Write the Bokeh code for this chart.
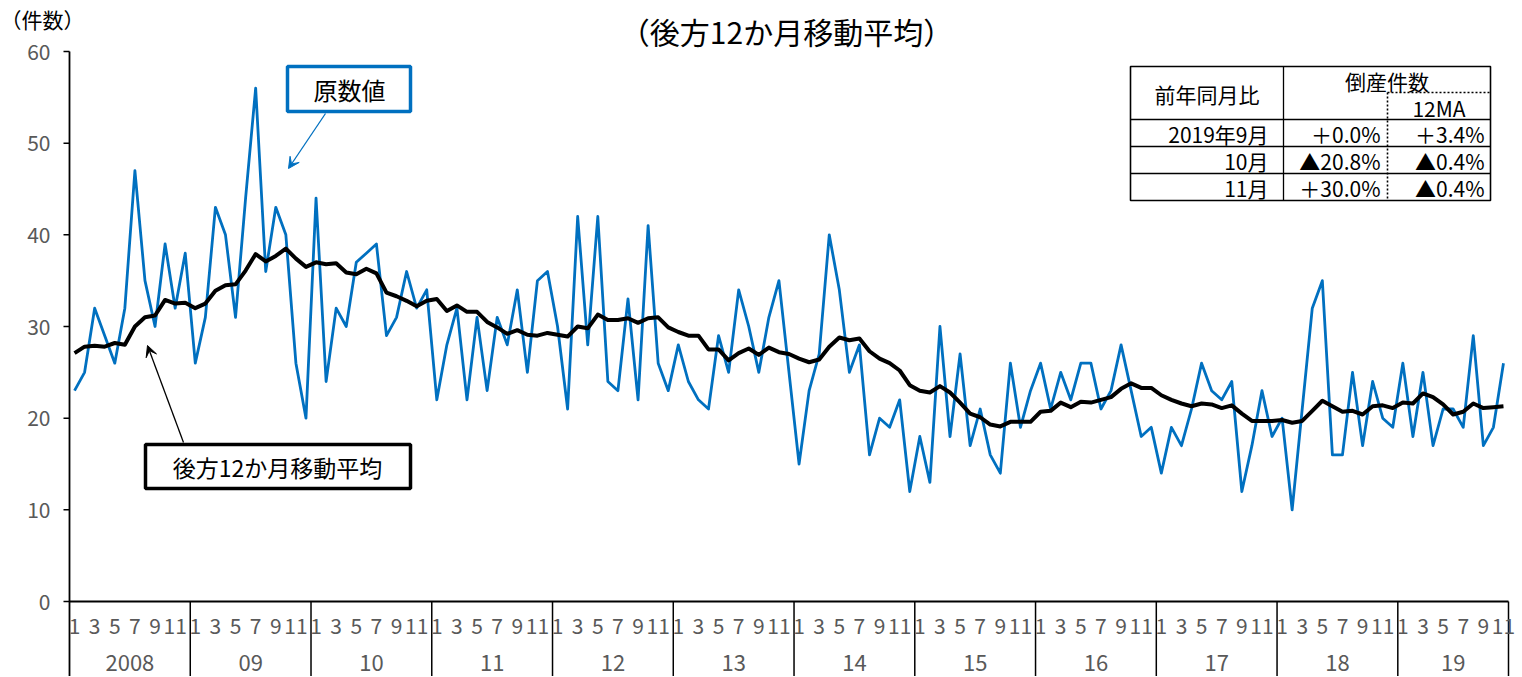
from bokeh.plotting import figure
from bokeh.models import Range1d, Arrow, VeeHead
from bokeh.core.properties import value
from bokeh.embed import file_html
from bokeh.resources import INLINE

FONT = "Noto Sans CJK JP"
BLUE = "#0070C0"
GRAY = "#595959"

# ---- data ----
year_labels = ["2008", "09", "10", "11", "12", "13", "14", "15", "16", "17", "18", "19"]
month_tick_labels = ["1", "3", "5", "7", "9", "11"]
y_ticks = [0, 10, 20, 30, 40, 50, 60]

raw_counts = [
    23, 25, 32, 29, 26, 32, 47, 35, 30, 39, 32, 38,
    26, 31, 43, 40, 31, 44, 56, 36, 43, 40, 26, 20,
    44, 24, 32, 30, 37, 38, 39, 29, 31, 36, 32, 34,
    22, 28, 32, 22, 31, 23, 31, 28, 34, 25, 35, 36,
    30, 21, 42, 28, 42, 24, 23, 33, 22, 41, 26, 23,
    28, 24, 22, 21, 29, 25, 34, 30, 25, 31, 35, 25,
    15, 23, 27, 40, 34, 25, 28, 16, 20, 19, 22, 12,
    18, 13, 30, 18, 27, 17, 21, 16, 14, 26, 19, 23,
    26, 21, 25, 22, 26, 26, 21, 23, 28, 23, 18, 19,
    14, 19, 17, 21, 26, 23, 22, 24, 12, 17, 23, 18,
    20, 10, 21, 32, 35, 16, 16, 25, 17, 24, 20, 19,
    26, 18, 25, 17, 21, 21, 19, 29, 17, 19, 26,
]

ma12 = [
    27.1, 27.8, 27.9, 27.8, 28.2, 28.0, 30.0, 31.0, 31.2, 32.9, 32.5, 32.6,
    32.0, 32.5, 33.9, 34.5, 34.6, 36.1, 37.9, 37.1, 37.7, 38.5, 37.4, 36.5,
    37.0, 36.8, 36.9, 35.9, 35.7, 36.3, 35.8, 33.7, 33.3, 32.8, 32.2, 32.8,
    33.0, 31.7, 32.3, 31.6, 31.6, 30.5, 29.9, 29.2, 29.6, 29.1, 29.0, 29.3,
    29.1, 28.9, 30.0, 29.8, 31.3, 30.7, 30.7, 30.9, 30.4, 30.9, 31.0, 29.9,
    29.4, 29.0, 29.0, 27.5, 27.5, 26.3, 27.1, 27.6, 26.9, 27.7, 27.2, 27.0,
    26.5, 26.1, 26.4, 27.8, 28.8, 28.5, 28.7, 27.3, 26.5, 26.0, 25.2, 23.6,
    23.0, 22.8, 23.5, 22.8, 21.7, 20.5, 20.1, 19.3, 19.1, 19.6, 19.6, 19.6,
    20.7, 20.8, 21.7, 21.2, 21.8, 21.7, 22.0, 22.3, 23.2, 23.8, 23.3, 23.3,
    22.5, 22.0, 21.6, 21.3, 21.6, 21.5, 21.1, 21.4, 20.5, 19.7, 19.7, 19.7,
    19.8, 19.5, 19.7, 20.8, 21.9, 21.3, 20.7, 20.8, 20.4, 21.3, 21.4, 21.1,
    21.7, 21.6, 22.7, 22.3, 21.5, 20.4, 20.7, 21.6, 21.1, 21.2, 21.3,
]

table_rows = ["2019年9月", "10月", "11月"]
table_raw = ["＋0.0%", "▲20.8%", "＋30.0%"]
table_ma = ["＋3.4%", "▲0.4%", "▲0.4%"]

n = len(raw_counts)
xs = list(range(n))

# ---- layout (page pixel positions -> data coordinates) ----
W, H = 1520, 676
FRAME_L, DATA_R = 69, 1508
Y0_PX, Y60_PX = 601, 51
PX_PER_X = (DATA_R - FRAME_L) / n
PX_PER_Y = (Y0_PX - Y60_PX) / 60.0


def dx(px):
    return (px - FRAME_L) / PX_PER_X - 0.5


def dy(py):
    return (Y0_PX - py) / PX_PER_Y


y_min = dy(H)

p = figure(width=W, height=H, output_backend="svg", toolbar_location=None,
           x_range=Range1d(dx(0), dx(W)), y_range=Range1d(y_min, dy(0)),
           min_border=0, x_axis_location=None, y_axis_location=None)
p.outline_line_color = None
p.grid.visible = False

# ---- value axis (line, ticks, labels) ----
x_axis_pos = -0.5
p.segment(x0=[x_axis_pos], y0=[y_min], x1=[x_axis_pos], y1=[max(y_ticks)],
          line_color="black", line_width=1.8)
p.segment(x0=[dx(63)] * len(y_ticks), y0=y_ticks, x1=[x_axis_pos] * len(y_ticks), y1=y_ticks,
          line_color="black", line_width=1.5)
p.text(x=[dx(50)] * len(y_ticks), y=y_ticks, text=[str(t) for t in y_ticks],
       text_font=value(FONT), text_font_size=value("21px"), text_color=GRAY,
       text_align="right", text_baseline="middle")
p.text(x=[dx(0)], y=[dy(18)], text=["（件数）"], text_font=value(FONT),
       text_font_size=value("21px"), text_color="black", text_align="left",
       text_baseline="middle")

# ---- category axis line, year separators, labels ----
p.segment(x0=[-0.5], y0=[0], x1=[n - 0.5], y1=[0], line_color="black", line_width=1.8)
bounds = [12 * k - 0.5 for k in range(1, len(year_labels))] + [n - 0.5]
p.segment(x0=bounds, y0=[0] * len(bounds), x1=bounds, y1=[y_min] * len(bounds),
          line_color="black", line_width=1.5)

mx, mt = [], []
for yi in range(len(year_labels)):
    for k, lab in enumerate(month_tick_labels):
        idx = 12 * yi + 2 * k
        if idx < n:
            mx.append(idx)
            mt.append(lab)
p.text(x=mx, y=[dy(625)] * len(mx), text=mt, text_font=value(FONT),
       text_font_size=value("21px"), text_color=GRAY, text_align="center",
       text_baseline="middle")

yx = []
for yi in range(len(year_labels)):
    start = 12 * yi - 0.5
    end = min(12 * (yi + 1), n) - 0.5
    yx.append((start + end) / 2)
p.text(x=yx, y=[dy(662)] * len(yx), text=year_labels, text_font=value(FONT),
       text_font_size=value("22px"), text_color=GRAY, text_align="center",
       text_baseline="middle")

# ---- title ----
p.text(x=[dx(786)], y=[dy(30)], text=["（後方12か月移動平均）"], text_font=value(FONT),
       text_font_size=value("30px"), text_color="black", text_align="center",
       text_baseline="middle")

# ---- data lines ----
p.line(xs, raw_counts, line_color=BLUE, line_width=2.8, line_join="round")
p.line(xs, ma12, line_color="black", line_width=4, line_join="round")

# ---- annotation boxes ----
p.quad(left=[dx(287)], right=[dx(410)], top=[dy(66)], bottom=[dy(111)],
       fill_color="white", line_color=BLUE, line_width=3.5)
p.text(x=[dx(349)], y=[dy(89)], text=["原数値"], text_font=value(FONT),
       text_font_size=value("24px"), text_color="black", text_align="center",
       text_baseline="middle")
p.add_layout(Arrow(end=VeeHead(size=11, fill_color=BLUE, line_color=BLUE),
                   x_start=dx(325), y_start=dy(113), x_end=dx(288), y_end=dy(168),
                   line_color=BLUE, line_width=1.3))

p.quad(left=[dx(145)], right=[dx(410)], top=[dy(444)], bottom=[dy(488)],
       fill_color="white", line_color="black", line_width=3.5)
p.text(x=[dx(277)], y=[dy(466)], text=["後方12か月移動平均"], text_font=value(FONT),
       text_font_size=value("23px"), text_color="black", text_align="center",
       text_baseline="middle")
p.add_layout(Arrow(end=VeeHead(size=11, fill_color="black", line_color="black"),
                   x_start=dx(183), y_start=dy(442), x_end=dx(147), y_end=dy(345),
                   line_color="black", line_width=1.3))

# ---- table ----
TL, TC1, TC2, TR = 1130, 1283, 1387, 1490
TT, TH, TR1, TR2, TR3, TB = 66, 92, 119, 146, 173, 200
p.quad(left=[dx(TL)], right=[dx(TR)], top=[dy(TT)], bottom=[dy(TB)],
       fill_color="white", line_color="black", line_width=1.6)
p.segment(x0=[dx(TC1)], y0=[dy(TT)], x1=[dx(TC1)], y1=[dy(TB)], line_color="black", line_width=1.3)
p.segment(x0=[dx(TL)] * 3, y0=[dy(TR1), dy(TR2), dy(TR3)], x1=[dx(TR)] * 3,
          y1=[dy(TR1), dy(TR2), dy(TR3)], line_color="black", line_width=1.3)
p.segment(x0=[dx(TC2), dx(TC2)], y0=[dy(TH), dy(TH)], x1=[dx(TC2), dx(TR)], y1=[dy(TB), dy(TH)],
          line_color="black", line_width=1.6, line_dash="2 2")
tfs = value("21px")
p.text(x=[dx((TL + TC1) / 2)], y=[dy(93)], text=["前年同月比"], text_font=value(FONT),
       text_font_size=tfs, text_align="center", text_baseline="middle")
p.text(x=[dx((TC1 + TR) / 2)], y=[dy(80)], text=["倒産件数"], text_font=value(FONT),
       text_font_size=tfs, text_align="center", text_baseline="middle")
p.text(x=[dx((TC2 + TR) / 2)], y=[dy(107)], text=["12MA"], text_font=value(FONT),
       text_font_size=tfs, text_align="center", text_baseline="middle")
row_y = [dy(133), dy(160), dy(187)]
p.text(x=[dx(1268)] * 3, y=row_y, text=table_rows, text_font=value(FONT),
       text_font_size=tfs, text_align="right", text_baseline="middle")
p.text(x=[dx(1380)] * 3, y=row_y, text=table_raw, text_font=value(FONT),
       text_font_size=tfs, text_align="right", text_baseline="middle")
p.text(x=[dx(1484)] * 3, y=row_y, text=table_ma, text_font=value(FONT),
       text_font_size=tfs, text_align="right", text_baseline="middle")

open("out.html", "w").write(file_html(p, INLINE))
